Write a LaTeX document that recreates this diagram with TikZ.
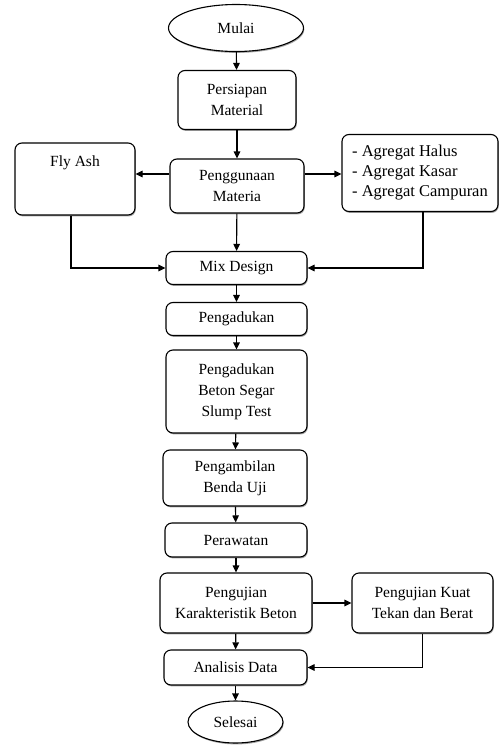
\documentclass[tikz,border=0pt]{standalone}
\usepackage{fontspec}
\setmainfont{Liberation Serif}
\usetikzlibrary{shapes.geometric,arrows.meta,calc,shadows}
\tikzset{
  shad/.style={drop shadow={shadow xshift=0.8pt, shadow yshift=-1.4pt, fill=black!60, opacity=0.6}},
  box/.style={draw, fill=white, shad, line width=1.1pt, rounded corners=7pt, align=center, inner sep=2pt,
    font=\fontsize{15.5}{21}\selectfont},
  term/.style={draw, fill=white, shad, line width=1.1pt, ellipse, inner sep=0pt,
    font=\fontsize{15.5}{21}\selectfont},
  arr/.style={line width=1.1pt, -{Triangle[length=7pt,width=6.5pt]}},
}
\begin{document}
\begin{tikzpicture}[x=1pt,y=-1pt]
\useasboundingbox (0,0) rectangle (499,745);
\node[term, minimum width=135pt, minimum height=47pt] (mulai) at (236,28) {Mulai};
\node[box, minimum width=118pt, minimum height=59pt] (persiapan) at (237,100) {Persiapan\\Material};
\node[box, minimum width=134pt, minimum height=54pt] (peng) at (237,186) {Penggunaan\\Materia};
\node[box, minimum width=120pt, minimum height=72pt] (fly) at (75,179) {Fly Ash\\[14pt]\mbox{}};
\node[box, align=left, minimum width=156pt, minimum height=77pt, font=\fontsize{16.5}{20}\selectfont] (agr) at (420,173) {- Agregat Halus\\- Agregat Kasar\\- Agregat Campuran};
\node[box, minimum width=141pt, minimum height=33pt] (mix) at (236.5,268) {Mix Design};
\node[box, minimum width=141pt, minimum height=33pt] (aduk) at (236.5,319) {Pengadukan};
\node[box, minimum width=141pt, minimum height=83pt] (beton) at (236.5,391.5) {Pengadukan\\Beton Segar\\Slump Test};
\node[box, minimum width=144pt, minimum height=56pt] (ambil) at (235,478) {Pengambilan\\Benda Uji};
\node[box, minimum width=142pt, minimum height=34pt] (rawat) at (236,540) {Perawatan};
\node[box, minimum width=152pt, minimum height=60pt] (karak) at (236,603) {Pengujian\\Karakteristik Beton};
\node[box, minimum width=141pt, minimum height=60pt] (kuat) at (422.5,603) {Pengujian Kuat\\Tekan dan Berat};
\node[box, minimum width=143pt, minimum height=35pt] (anal) at (235.5,667.5) {Analisis Data};
\node[term, minimum width=95pt, minimum height=42pt] (selesai) at (235.5,722) {Selesai};

\draw[arr] (mulai) -- (persiapan);
\draw[arr] (persiapan) -- (peng);
\coordinate (pl) at ([yshift=12pt]peng.west);
\coordinate (pr) at ([yshift=12pt]peng.east);
\draw[arr] (pl) -- (pl -| fly.east);
\draw[arr] (pr) -- (pr -| agr.west);
\draw[arr] (peng) -- (mix);
\draw[arr] ([xshift=-4pt]fly.south) |- (mix.west);
\draw[arr] ([xshift=3pt]agr.south) |- (mix.east);
\draw[arr] (mix) -- (aduk);
\draw[arr] (aduk) -- (beton);
\draw[arr] (beton) -- (ambil);
\draw[arr] (ambil) -- (rawat);
\draw[arr] (rawat) -- (karak);
\draw[arr] (karak) -- (kuat);
\draw[arr] (karak) -- (anal);
\draw[arr] (kuat.south) |- (anal.east);
\draw[arr] (anal) -- (selesai);
\end{tikzpicture}
\end{document}
